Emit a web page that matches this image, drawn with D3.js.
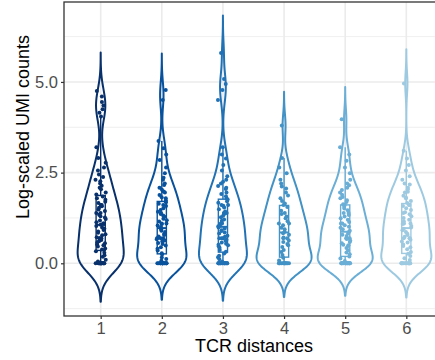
<!DOCTYPE html>
<html>
<head>
<meta charset="utf-8">
<script src="https://cdn.jsdelivr.net/npm/d3@7"></script>
<style>
  body { margin: 0; background: #fff; }
  svg { display: block; font-family: "Liberation Sans", Arial, sans-serif; }
</style>
</head>
<body>
<div id="vis"></div>
<script>
// TCR distance groups and their colours (Blues, dark -> light)
const groups = ["1", "2", "3", "4", "5", "6"];
const groupColors = ["#08306b", "#08519c", "#2171b5", "#4292c6", "#6baed6", "#9ecae1"];

// log-scaled UMI counts per group
const umi1 = [0,0,0,0,0,0,0,0,0,0,0,0,0,0,0,0,
  0.05,0.1,0.18,0.22,0.29,0.33,0.38,0.41,0.46,0.5,
  0.52,0.55,0.58,0.61,0.64,0.69,0.69,0.69,0.72,0.77,0.8,0.84,0.88,0.92,0.95,0.99,
  1.03,1.06,1.1,1.1,1.13,1.18,1.22,1.26,1.3,1.34,1.39,1.39,1.44,1.48,
  1.53,1.57,1.61,1.61,1.66,1.7,1.75,1.79,1.84,1.9,1.95,
  2.04,2.08,2.14,2.2,2.26,2.3,2.38,2.45, 2.56,2.64,2.77,2.9, 3.2,
  4.05,4.15,4.25,4.35,4.45,4.6,4.75];
const umi2 = [0,0,0,0,0,0,0,0,0,0,0,0,0,0,0,0,
  0.07,0.12,0.16,0.24,0.28,0.35,0.4,0.44,0.49,
  0.53,0.56,0.6,0.63,0.66,0.69,0.69,0.69,0.74,0.78,0.81,0.86,0.9,0.93,0.97,1.0,
  1.04,1.08,1.1,1.1,1.15,1.19,1.23,1.28,1.32,1.36,1.39,1.42,1.47,
  1.52,1.58,1.61,1.64,1.68,1.73,1.79,1.82,1.88,1.95,1.98,
  2.03,2.08,2.16,2.2,2.3,2.36,2.48, 2.64,2.85,3.0, 3.17,3.37,
  4.5,4.78];
const umi3 = [0,0,0,0,0,0,0,0,0,0,0,0,0,0,0,0,
  0.04,0.11,0.17,0.21,0.27,0.32,0.37,0.43,0.47,0.5,
  0.51,0.54,0.57,0.62,0.65,0.69,0.69,0.69,0.73,0.76,0.82,0.85,0.89,0.91,0.96,0.99,
  1.02,1.07,1.1,1.1,1.12,1.17,1.21,1.27,1.31,1.35,1.39,1.39,1.43,1.49,
  1.54,1.59,1.61,1.61,1.67,1.71,1.76,1.79,1.85,1.91,1.95,
  2.05,2.08,2.13,2.2,2.25,2.3,2.4,2.56, 2.71,2.89,3.0, 3.2,
  4.5,4.78,4.94,5.08,5.8];
const umi4 = [0,0,0,0,0,0,0,0,0,0,0,0,
  0.08,0.15,0.23,0.31,0.37,0.45,0.5,
  0.53,0.59,0.63,0.69,0.69,0.71,0.79,0.83,0.87,0.94,0.98,
  1.05,1.1,1.1,1.16,1.24,1.29,1.36,1.39,1.45,
  1.55,1.61,1.65,1.72,1.79,1.87,1.95,
  2.06,2.12,2.2,2.3,2.48, 2.64,2.9,
  3.8];
const umi5 = [0,0,0,0,0,0,0,0,0,0,0,0,0,0,0,0,
  0.06,0.13,0.19,0.25,0.3,0.36,0.42,0.48,0.5,
  0.51,0.55,0.59,0.62,0.67,0.69,0.69,0.69,0.75,0.79,0.83,0.87,0.9,0.94,0.98,
  1.01,1.05,1.1,1.1,1.14,1.2,1.24,1.29,1.33,1.39,1.39,1.46,
  1.51,1.56,1.61,1.63,1.69,1.74,1.79,1.83,1.89,1.95,
  2.02,2.08,2.15,2.2,2.3,2.48, 2.64,2.83,3.0, 3.2,
  3.97];
const umi6 = [0,0,0,0,0,0,0,0,0,0,0,0,0,0,
  0.09,0.14,0.2,0.26,0.31,0.39,0.44,0.48,
  0.52,0.57,0.6,0.65,0.69,0.69,0.69,0.73,0.78,0.82,0.86,0.91,0.95,0.99,
  1.03,1.08,1.1,1.1,1.16,1.2,1.25,1.3,1.35,1.39,1.41,1.47,
  1.52,1.58,1.61,1.61,1.66,1.72,1.79,1.81,1.86,1.95,1.97,
  2.04,2.08,2.17,2.2,2.3,2.4,2.56, 2.71,2.89,3.1,
  4.96];
const groupValues = [umi1, umi2, umi3, umi4, umi5, umi6];

const yTicks = [0, 2.5, 5];
const yMinorTicks = [-1.25, 1.25, 3.75, 6.25];
const xTitle = "TCR distances";
const yTitle = "Log-scaled UMI counts";

const width = 435, height = 360;
const margin = { left: 64, right: -8, top: 2, bottom: 44 };
const bwAdjust = 0.85;

const svg = d3.select("#vis").append("svg")
  .attr("width", width)
  .attr("height", height);

const x = d3.scalePoint()
  .domain(groups)
  .range([margin.left, width - margin.right])
  .padding(0.6);

const y = d3.scaleLinear()
  .domain([-1.453, 7.204])
  .range([height - margin.bottom, margin.top]);

const step = x.step();

// gridlines
const grid = svg.append("g");
grid.selectAll("line.minor")
  .data(yMinorTicks)
  .enter().append("line")
  .attr("x1", margin.left).attr("x2", width)
  .attr("y1", d => y(d)).attr("y2", d => y(d))
  .attr("stroke", "#ebebeb").attr("stroke-width", 0.8);
grid.selectAll("line.major")
  .data(yTicks)
  .enter().append("line")
  .attr("x1", margin.left).attr("x2", width)
  .attr("y1", d => y(d)).attr("y2", d => y(d))
  .attr("stroke", "#ebebeb").attr("stroke-width", 1.6);
grid.selectAll("line.vert")
  .data(groups)
  .enter().append("line")
  .attr("x1", d => x(d)).attr("x2", d => x(d))
  .attr("y1", margin.top).attr("y2", height - margin.bottom)
  .attr("stroke", "#ebebeb").attr("stroke-width", 1.6);

// kernel density (gaussian, bw.nrd0 like R)
function nrd0(v) {
  const s = v.slice().sort(d3.ascending);
  const iqr = d3.quantile(s, 0.75) - d3.quantile(s, 0.25);
  const lo = Math.min(d3.deviation(s), iqr / 1.34);
  return 0.9 * lo * Math.pow(s.length, -0.2);
}

const densities = groupValues.map(v => {
  const bw = nrd0(v) * bwAdjust;
  const lo = d3.min(v) - 3 * bw, hi = d3.max(v) + 3 * bw;
  const n = 256;
  return d3.range(n).map(i => {
    const t = lo + (hi - lo) * i / (n - 1);
    const dens = d3.sum(v, d => Math.exp(-0.5 * ((t - d) / bw) ** 2)) / (v.length * bw * Math.sqrt(2 * Math.PI));
    return [t, dens];
  });
});
const maxDens = d3.max(densities, p => d3.max(p, d => d[1]));
const halfW = step * 0.45;

const violins = svg.append("g");
densities.forEach((pts, gi) => {
  const cx = x(groups[gi]);
  const right = pts.map(d => [cx + halfW * d[1] / maxDens, y(d[0])]);
  const left = pts.slice().reverse().map(d => [cx - halfW * d[1] / maxDens, y(d[0])]);
  violins.append("path")
    .attr("d", d3.line()(right.concat(left)) + "Z")
    .attr("fill", "none")
    .attr("stroke", groupColors[gi])
    .attr("stroke-width", 2)
    .attr("stroke-linejoin", "round");
});

// narrow boxplots
const boxW = step * 0.15;
const boxes = svg.append("g");
groupValues.forEach((v, gi) => {
  const s = v.slice().sort(d3.ascending);
  const q1 = d3.quantile(s, 0.25), med = d3.quantile(s, 0.5), q3 = d3.quantile(s, 0.75);
  const iqr = q3 - q1;
  const wLo = d3.min(s.filter(d => d >= q1 - 1.5 * iqr));
  const wHi = d3.max(s.filter(d => d <= q3 + 1.5 * iqr));
  const cx = x(groups[gi]);
  const g = boxes.append("g").attr("stroke", groupColors[gi]).attr("stroke-width", 1.4);
  g.append("line").attr("x1", cx).attr("x2", cx).attr("y1", y(q3)).attr("y2", y(wHi));
  g.append("line").attr("x1", cx).attr("x2", cx).attr("y1", y(q1)).attr("y2", y(wLo));
  g.append("rect")
    .attr("x", cx - boxW / 2).attr("width", boxW)
    .attr("y", y(q3)).attr("height", y(q1) - y(q3))
    .attr("fill", "#fff");
  g.append("line").attr("x1", cx - boxW / 2).attr("x2", cx + boxW / 2)
    .attr("y1", y(med)).attr("y2", y(med)).attr("stroke-width", 2);
});

// jittered points (deterministic hash offsets, no randomness)
const jitter = (i, gi) => {
  const h = Math.sin((i + 1) * 12.9898 + (gi + 1) * 78.233) * 43758.5453;
  return ((h - Math.floor(h)) - 0.5) * step * 0.17;
};
const points = svg.append("g");
groupValues.forEach((v, gi) => {
  points.selectAll(null)
    .data(v)
    .enter().append("circle")
    .attr("cx", (d, i) => x(groups[gi]) + jitter(i, gi))
    .attr("cy", d => y(d))
    .attr("r", 2)
    .attr("fill", groupColors[gi]);
});

// panel border
svg.append("rect")
  .attr("x", margin.left).attr("y", margin.top)
  .attr("width", width - margin.right - margin.left)
  .attr("height", height - margin.bottom - margin.top)
  .attr("fill", "none")
  .attr("stroke", "#333")
  .attr("stroke-width", 1.3);

// axes
const yAxis = svg.append("g")
  .attr("transform", `translate(${margin.left},0)`)
  .call(d3.axisLeft(y).tickValues(yTicks).tickFormat(d3.format(".1f")).tickSize(3).tickPadding(3));
const xAxis = svg.append("g")
  .attr("transform", `translate(0,${height - margin.bottom})`)
  .call(d3.axisBottom(x).tickSize(3).tickPadding(3));
[xAxis, yAxis].forEach(a => {
  a.select(".domain").remove();
  a.selectAll(".tick line").attr("stroke", "#333").attr("stroke-width", 1.2);
  a.selectAll(".tick text")
    .attr("fill", "#4d4d4d")
    .style("font-size", "16.5px")
    .style("font-family", "'Liberation Sans', Arial, sans-serif");
});

svg.append("text")
  .attr("x", 254).attr("y", 352)
  .attr("text-anchor", "middle")
  .style("font-size", "18px")
  .text(xTitle);

svg.append("text")
  .attr("transform", `translate(29,127) rotate(-90)`)
  .attr("text-anchor", "middle")
  .style("font-size", "18px")
  .text(yTitle);
</script>
</body>
</html>
